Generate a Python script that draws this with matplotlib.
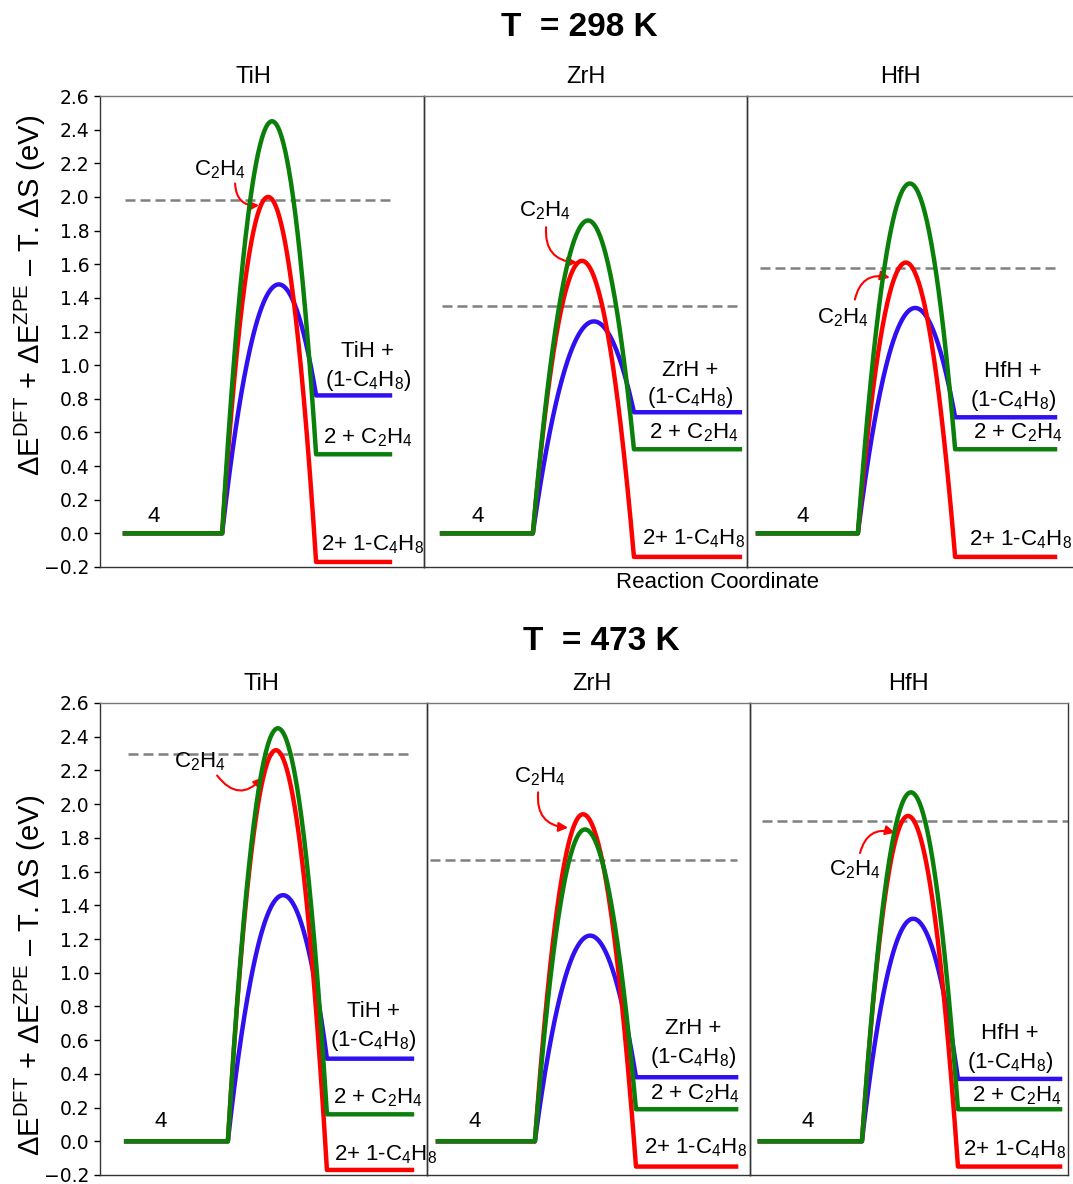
import numpy as np
import matplotlib
matplotlib.use("Agg")
import matplotlib.pyplot as plt

plt.rcParams['font.family'] = ['Liberation Sans', 'DejaVu Sans']
plt.rcParams['mathtext.fontset'] = 'custom'
plt.rcParams['mathtext.rm'] = 'Liberation Sans'
plt.rcParams['mathtext.it'] = 'Liberation Sans:italic'
plt.rcParams['mathtext.bf'] = 'Liberation Sans:bold'

# ─── data (eV) ───
temps = ['298', '473']
metals = ['TiH', 'ZrH', 'HfH']
start_level = 0.0

ts_green_298 = [2.45, 1.86, 2.08]
ts_red_298 = [2.00, 1.62, 1.61]
ts_blue_298 = [1.48, 1.26, 1.34]
end_green_298 = [0.47, 0.50, 0.50]
end_red_298 = [-0.17, -0.14, -0.14]
end_blue_298 = [0.82, 0.72, 0.69]
dashed_298 = [1.98, 1.35, 1.58]

ts_green_473 = [2.45, 1.85, 2.07]
ts_red_473 = [2.32, 1.94, 1.93]
ts_blue_473 = [1.46, 1.22, 1.32]
end_green_473 = [0.16, 0.19, 0.19]
end_red_473 = [-0.17, -0.15, -0.15]
end_blue_473 = [0.49, 0.38, 0.37]
dashed_473 = [2.30, 1.67, 1.90]

yticks = np.round(np.arange(-0.2, 2.61, 0.2), 1)

# ─── layout (reaction-coordinate units, 0..10 per panel) ───
# plateau start, barrier start, barrier end, plateau end
stages = {
    '298': [(0.77, 3.77, 6.67, 8.95), (0.56, 3.37, 6.50, 9.78), (0.33, 3.33, 6.25, 9.25)],
    '473': [(0.80, 3.91, 6.94, 9.54), (0.34, 3.34, 6.47, 9.57), (0.31, 3.52, 6.54, 9.75)],
}
# peak positions (green, red, blue)
peak_x = {
    '298': [(5.31, 5.19, 5.52), (5.08, 4.89, 5.26), (4.89, 4.77, 5.05)],
    '473': [(5.44, 5.38, 5.60), (4.89, 4.83, 5.05), (5.06, 4.97, 5.13)],
}
dash_x = {
    '298': [(0.77, 8.95), (0.56, 9.85), (0.39, 9.31)],
    '473': [(0.86, 9.54), (0.09, 9.60), (0.38, 10.0)],
}
# label positions: "4", metal+, (1-C4H8), 2 + C2H4, 2+ 1-C4H8  -> (x, y)
labels_pos = {
    '298': [
        [(1.67, 0.10), (8.27, 1.08), (8.27, 0.91), (8.27, 0.57), (8.40, -0.07)],
        [(1.67, 0.10), (8.24, 0.97), (8.24, 0.81), (8.36, 0.60), (8.33, -0.03)],
        [(1.68, 0.10), (7.99, 0.96), (7.99, 0.79), (8.14, 0.60), (8.20, -0.04)],
    ],
    '473': [
        [(1.87, 0.12), (8.35, 0.77), (8.35, 0.60), (8.50, 0.26), (8.72, -0.08)],
        [(1.49, 0.12), (8.24, 0.67), (8.24, 0.50), (8.30, 0.28), (8.30, -0.04)],
        [(1.82, 0.12), (8.18, 0.64), (8.18, 0.47), (8.40, 0.27), (8.33, -0.05)],
    ],
}
# C2H4 label, arrow start, arrow end, curvature
c2h4 = {
    '298': [((3.70, 2.16), (4.17, 2.08), (4.91, 1.95), 0.5),
            ((3.75, 1.92), (3.78, 1.82), (4.74, 1.61), 0.5),
            ((2.88, 1.28), (3.24, 1.39), (4.29, 1.52), -0.5)],
    '473': [((3.06, 2.25), (3.58, 2.17), (4.98, 2.16), 0.6),
            ((3.50, 2.16), (3.44, 2.07), (4.37, 1.86), 0.5),
            ((3.30, 1.61), (3.46, 1.71), (4.56, 1.83), -0.5)],
}

W, H = 1073, 1184
# panel boxes in pixels: left, top, right, bottom
boxes = {
    '298': [(100, 96, 424, 567), (424, 96, 747, 567), (747, 96, 1080, 567)],
    '473': [(100, 703, 427, 1175), (427, 703, 750, 1175), (750, 703, 1068, 1175)],
}

GREEN = '#0a800a'
RED = '#ff0000'
BLUE = '#3010f0'


def barrier(x0, xp, x1, top, end, n=80):
    """Smooth schematic barrier through the TS energy."""
    xl = np.linspace(x0, xp, n)
    yl = start_level + (top - start_level) * (1 - ((xl - xp) / (xp - x0)) ** 2)
    xr = np.linspace(xp, x1, n)
    yr = end + (top - end) * (1 - ((xr - xp) / (x1 - xp)) ** 2)
    return np.concatenate([xl, xr]), np.concatenate([yl, yr])


def draw_panel(ax, T, i, ts, ends, dash):
    xs, x0, x1, xe = stages[T][i]
    colors = [GREEN, RED, BLUE]
    ax.plot(dash_x[T][i], [dash[i], dash[i]], color='#808080', lw=1.8,
            linestyle=(0, (4, 2)), zorder=1)
    for k in (2, 1, 0):  # blue, red, green on top
        bx, by = barrier(x0, peak_x[T][i][k], x1, ts[k][i], ends[k][i])
        x = np.concatenate([[xs], bx, [xe]])
        y = np.concatenate([[start_level], by, [ends[k][i]]])
        ax.plot(x, y, color=colors[k], lw=3.2, solid_joinstyle='round',
                zorder=2 + (2 - k))

    pos = labels_pos[T][i]
    fs = 16
    kw = dict(ha='center', va='center', fontsize=fs, clip_on=False)
    ax.text(*pos[0], '4', **kw)
    ax.text(*pos[1], metals[i] + ' +', **kw)
    ax.text(*pos[2], '(1-C$_4$H$_8$)', **kw)
    ax.text(*pos[3], '2 + C$_2$H$_4$', **kw)
    ax.text(*pos[4], '2+ 1-C$_4$H$_8$', **kw)

    lab, a0, a1, rad = c2h4[T][i]
    ax.text(*lab, 'C$_2$H$_4$', **kw)
    ax.annotate('', xy=a1, xytext=a0,
                arrowprops=dict(arrowstyle='-|>', color=RED, lw=1.5,
                                mutation_scale=14, shrinkA=0, shrinkB=0,
                                connectionstyle=f'arc3,rad={rad}'))

    ax.set_xlim(0, 10)
    ax.set_ylim(-0.2, 2.6)
    ax.set_xticks([])
    ax.patch.set_alpha(0)
    for s in ax.spines.values():
        s.set_linewidth(1.0)
        s.set_color('#333333')
    ax.spines['top'].set_color('#777777')
    if i == 0:
        ax.set_yticks(yticks)
        ax.set_yticklabels([f'{v:.1f}'.replace('-', '\u2212') for v in yticks],
                           family='DejaVu Sans', fontsize=13.5)
        ax.tick_params(axis='y', length=4, width=1)
    else:
        ax.set_yticks([])


fig = plt.figure(figsize=(W / 100, H / 100), dpi=100)

series = {
    '298': ((ts_green_298, ts_red_298, ts_blue_298),
            (end_green_298, end_red_298, end_blue_298), dashed_298),
    '473': ((ts_green_473, ts_red_473, ts_blue_473),
            (end_green_473, end_red_473, end_blue_473), dashed_473),
}

for T in temps:
    ts, ends, dash = series[T]
    for i in range(3):
        l, t, r, b = boxes[T][i]
        ax = fig.add_axes([l / W, 1 - b / H, (r - l) / W, (b - t) / H])
        draw_panel(ax, T, i, ts, ends, dash)


def ftext(px, py, s, **kw):
    fig.text(px / W, 1 - py / H, s, ha='center', va='center', **kw)


ftext(579, 28, 'T  = 298 K', fontsize=24, fontweight='bold')
ftext(601, 641, 'T  = 473 K', fontsize=24, fontweight='bold')
for T, ty, xs in (('298', 77, (253, 586, 900)), ('473', 684, (261, 592, 908))):
    for name, x in zip(metals, xs):
        ftext(x, ty, name, fontsize=17)
ftext(718, 582, 'Reaction Coordinate', fontsize=16)

ylab = '\u0394E$^{\\mathrm{DFT}}$ + \u0394E$^{\\mathrm{ZPE}}$ \u2013 T. \u0394S (eV)'
ftext(30, 295, ylab, fontsize=21, rotation=90)
ftext(30, 975, ylab, fontsize=21, rotation=90)

fig.savefig('out.png', dpi=100, facecolor='white')
